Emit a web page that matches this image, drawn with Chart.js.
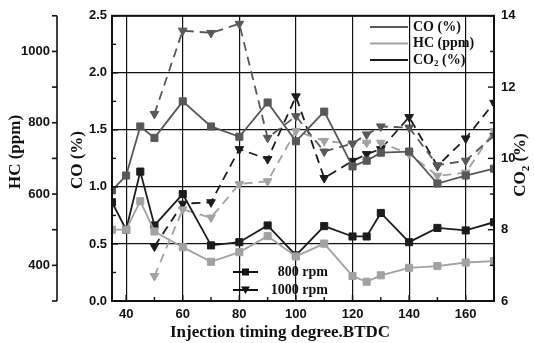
<!DOCTYPE html>
<html>
<head>
<meta charset="utf-8">
<script src="https://cdn.jsdelivr.net/npm/chart.js@4/dist/chart.umd.min.js"></script>
<style>
html,body{margin:0;padding:0;background:#fff;}
canvas{display:block;}
</style>
</head>
<body>
<canvas id="c" width="534" height="343"></canvas>
<script>
// ---- data ----
const x800  = [35,40,45,50,60,70,80,90,100,110,120,125,130,140,150,160,170];
const x1000 = [50,60,70,80,90,100,110,120,125,130,140,150,160,170];
const co800   = [0.97,1.10,1.53,1.43,1.75,1.53,1.44,1.74,1.40,1.66,1.18,1.23,1.30,1.31,1.03,1.10,1.16];
const hc800   = [500,500,580,495,451,410,437,482,425,461,370,354,372,393,398,408,412];
const co2_800 = [8.77,8.00,9.63,8.12,9.00,7.56,7.65,8.12,7.28,8.10,7.81,7.81,8.47,7.65,8.05,7.98,8.21];
const co1000   = [1.64,2.37,2.35,2.43,1.43,1.62,1.31,1.38,1.46,1.53,1.52,1.19,1.23,1.45];
const hc1000   = [370,557,534,628,636,777,749,741,744,744,713,651,660,777];
const co2_1000 = [7.53,8.73,8.77,10.26,9.98,11.74,9.45,9.93,10.12,10.26,11.16,9.79,10.56,11.56];

// tick labels
const xTicks   = [40,60,80,100,120,140,160];
const xMinor   = [50,70,90,110,130,150,170];
const coTicks  = [0.0,0.5,1.0,1.5,2.0,2.5];
const coMinor  = [0.25,0.75,1.25,1.75,2.25];
const hcTicks  = [400,600,800,1000];
const hcMinor  = [300,500,700,900,1100];
const co2Ticks = [6,8,10,12,14];
const co2Minor = [7,9,11,13];

const C_CO = '#585858', C_HC = '#a2a2a2', C_CO2 = '#1c1c1c';
const serif = '"Liberation Serif", "Times New Roman", serif';
const sans = '"Liberation Sans", Arial, sans-serif';

function pts(xs, ys){ return xs.map((x,i)=>({x:x, y:ys[i]})); }
function ds(label, xs, ys, color, axis, dashed){
  return {
    label, data: pts(xs, ys), yAxisID: axis,
    borderColor: color, backgroundColor: color,
    pointBackgroundColor: color, pointBorderColor: color,
    borderWidth: 1.8, borderDash: dashed ? [9,6] : [],
    pointStyle: dashed ? 'triangle' : 'rect',
    rotation: dashed ? 180 : 0,
    pointRadius: 5, pointBorderWidth: 1,
    tension: 0, fill: false
  };
}

function setTicks(arr){ return s => { s.ticks = arr.map(v=>({value:v})); }; }

const frame = {
  id: 'frame',
  afterDraw(chart){
    const {ctx, chartArea:a, scales} = chart;
    const sx = scales.x, sco = scales.yCO, sco2 = scales.yCO2, shc = scales.yHC;
    ctx.save();
    ctx.strokeStyle = '#111';
    ctx.lineWidth = 1.4;
    const ln = (x1,y1,x2,y2)=>{ctx.beginPath();ctx.moveTo(x1,y1);ctx.lineTo(x2,y2);ctx.stroke();};
    // x ticks (inward)
    xTicks.forEach(v=>{const p=sx.getPixelForValue(v); ln(p,a.bottom,p,a.bottom-6);});
    xMinor.forEach(v=>{const p=sx.getPixelForValue(v); ln(p,a.bottom,p,a.bottom-4);});
    // CO ticks (inward)
    coTicks.forEach(v=>{const p=sco.getPixelForValue(v); ln(a.left,p,a.left+6,p);});
    coMinor.forEach(v=>{const p=sco.getPixelForValue(v); ln(a.left,p,a.left+4,p);});
    // CO2 ticks (inward)
    co2Ticks.forEach(v=>{const p=sco2.getPixelForValue(v); ln(a.right,p,a.right-6,p);});
    co2Minor.forEach(v=>{const p=sco2.getPixelForValue(v); ln(a.right,p,a.right-4,p);});
    // HC separate axis
    const hx = shc.right - 1;
    ctx.lineWidth = 1.6;
    ln(hx, a.top, hx, a.bottom);
    hcTicks.forEach(v=>{const p=shc.getPixelForValue(v); ln(hx,p,hx-5,p);});
    hcMinor.forEach(v=>{const p=shc.getPixelForValue(v); ln(hx,p,hx-5,p);});
    // frame
    ctx.lineWidth = 2;
    ctx.strokeRect(a.left, a.top, a.right-a.left, a.bottom-a.top);

    // titles
    ctx.fillStyle = '#111';
    ctx.font = 'bold 17px ' + serif;
    ctx.textAlign = 'center'; ctx.textBaseline = 'middle';
    ctx.fillText('Injection timing degree.BTDC', 280, 333);
    const vtext = (txt, x, y) => { ctx.save(); ctx.translate(x,y); ctx.rotate(-Math.PI/2); ctx.fillText(txt,0,0); ctx.restore(); };
    vtext('HC (ppm)', 16, 152);
    vtext('CO (%)', 78, 160);
    // CO2 (%) right, with subscript
    ctx.save();
    ctx.translate(521, 165); ctx.rotate(-Math.PI/2);
    ctx.textAlign = 'left';
    ctx.font = 'bold 17px ' + serif;
    const w1 = ctx.measureText('CO').width;
    ctx.font = 'bold 11px ' + serif;
    const w2 = ctx.measureText('2').width;
    ctx.font = 'bold 17px ' + serif;
    const w3 = ctx.measureText(' (%)').width;
    let x0 = -(w1+w2+w3)/2;
    ctx.fillText('CO', x0, 0);
    ctx.font = 'bold 11px ' + serif;
    ctx.fillText('2', x0+w1, 5);
    ctx.font = 'bold 17px ' + serif;
    ctx.fillText(' (%)', x0+w1+w2, 0);
    ctx.restore();

    // top-right legend
    ctx.font = 'bold 14px ' + serif;
    ctx.textAlign = 'left';
    const leg = [['CO (%)', C_CO, 27], ['HC (ppm)', C_HC, 43.5], ['CO', C_CO2, 60]];
    leg.forEach(([t,c,y])=>{
      ctx.strokeStyle = c; ctx.lineWidth = 2;
      ln(370, y, 408, y);
      ctx.fillStyle = '#111';
      ctx.fillText(t, 413, y);
    });
    let wco = ctx.measureText('CO').width;
    ctx.font = 'bold 9px ' + serif;
    ctx.fillText('2', 413+wco, 64);
    let w2b = ctx.measureText('2').width;
    ctx.font = 'bold 14px ' + serif;
    ctx.fillText(' (%)', 413+wco+w2b, 60);

    // bottom legend
    ctx.strokeStyle = '#111'; ctx.fillStyle = '#111'; ctx.lineWidth = 2;
    ln(233, 272, 258, 272);
    ctx.fillRect(242, 268.5, 7, 7);
    ln(233, 290, 258, 290);
    ctx.beginPath(); ctx.moveTo(241,286.5); ctx.lineTo(250,286.5); ctx.lineTo(245.5,294); ctx.closePath(); ctx.fill();
    ctx.textAlign = 'right';
    ctx.font = 'bold 14px ' + serif;
    ctx.fillText('800 rpm', 328, 272);
    ctx.fillText('1000 rpm', 328, 290);
    ctx.restore();
  }
};

new Chart(document.getElementById('c'), {
  type: 'line',
  data: {
    datasets: [
      ds('CO 800', x800, co800, C_CO, 'yCO', false),
      ds('HC 800', x800, hc800, C_HC, 'yHC', false),
      ds('CO2 800', x800, co2_800, C_CO2, 'yCO2', false),
      ds('CO 1000', x1000, co1000, C_CO, 'yCO', true),
      ds('HC 1000', x1000, hc1000, C_HC, 'yHC', true),
      ds('CO2 1000', x1000, co2_1000, C_CO2, 'yCO2', true)
    ]
  },
  options: {
    responsive: false,
    animation: false,
    devicePixelRatio: 1,
    layout: { padding: { top: 14, left: 0, right: 0, bottom: 0 } },
    plugins: { legend: { display: false }, tooltip: { enabled: false } },
    scales: {
      x: {
        type: 'linear', min: 35, max: 170,
        afterBuildTicks: setTicks(xTicks),
        afterFit: s => { s.height = 42; },
        grid: { color: '#111', lineWidth: 1.2, drawTicks: false },
        border: { display: false },
        ticks: { padding: 6, color: '#111', font: { family: sans, weight: 'bold', size: 13 }, maxRotation: 0, callback: v => String(v) }
      },
      yHC: {
        type: 'linear', position: 'left', weight: 2, min: 300, max: 1100,
        afterBuildTicks: setTicks(hcTicks),
        afterFit: s => { s.width = 58; },
        grid: { display: false, drawOnChartArea: false, drawTicks: false },
        border: { display: false },
        ticks: { padding: 8, color: '#111', font: { family: sans, weight: 'bold', size: 13 }, callback: v => String(v) }
      },
      yCO: {
        type: 'linear', position: 'left', weight: 1, min: 0, max: 2.5,
        afterBuildTicks: setTicks(coTicks),
        afterFit: s => { s.width = 54; },
        grid: { color: '#111', lineWidth: 1.2, drawTicks: false },
        border: { display: false },
        ticks: { padding: 5, color: '#111', font: { family: sans, weight: 'bold', size: 13 }, callback: v => v.toFixed(1) }
      },
      yCO2: {
        type: 'linear', position: 'right', min: 6, max: 14,
        afterBuildTicks: setTicks(co2Ticks),
        afterFit: s => { s.width = 40; },
        grid: { display: false, drawOnChartArea: false, drawTicks: false },
        border: { display: false },
        ticks: { padding: 7, color: '#111', font: { family: sans, weight: 'bold', size: 13 }, callback: v => String(v) }
      }
    }
  },
  plugins: [frame]
});
</script>
</body>
</html>
